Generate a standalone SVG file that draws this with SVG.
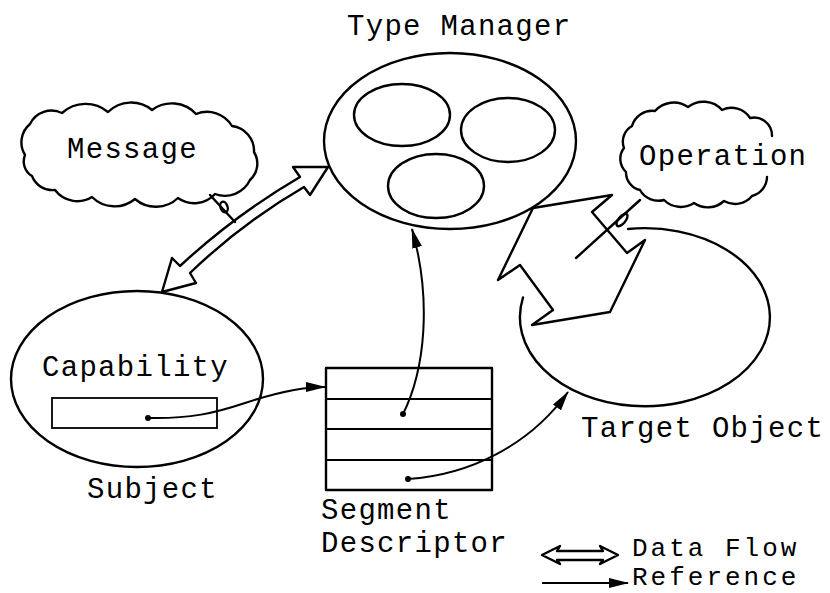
<svg xmlns="http://www.w3.org/2000/svg" width="830" height="593" viewBox="0 0 830 593">
  <style>
    .ln { fill: none; stroke: #000; stroke-width: 2.4; stroke-linejoin: round; stroke-linecap: round; }
    .thin { fill: none; stroke: #000; stroke-width: 1.8; }
    .ref { fill: none; stroke: #000; stroke-width: 2; }
    .dot { fill: #000; }
    .t { font-family: "Liberation Mono", "DejaVu Sans Mono", monospace; font-size: 29px; letter-spacing: 1.3px; fill: #000; }
    .lg { font-family: "Liberation Mono", "DejaVu Sans Mono", monospace; font-size: 26px; letter-spacing: 3px; fill: #000; }
  </style>
  <defs>
    <marker id="head" viewBox="0 0 20 10" refX="19" refY="5" markerWidth="20" markerHeight="10" markerUnits="userSpaceOnUse" orient="auto">
      <path d="M0,0 L20,5 L0,10 z" fill="#000"/>
    </marker>
  </defs>
  <rect width="830" height="593" fill="#fff"/>

  <!-- Type Manager -->
  <g id="type-manager">
    <ellipse class="ln" cx="450" cy="141" rx="126" ry="88"/>
    <ellipse class="ln" cx="402" cy="115" rx="48" ry="31"/>
    <ellipse class="ln" cx="508" cy="130" rx="47" ry="32"/>
    <ellipse class="ln" cx="436" cy="186" rx="48" ry="32"/>
    <text class="t" x="347" y="35">Type Manager</text>
  </g>

  <!-- Message cloud -->
  <g id="message">
    <path class="ln" d="M25,155 A24,24 0 0 1 30,124 A24,24 0 0 1 62,113 A35,35 0 0 1 108,112 A33,33 0 0 1 152,110 A33,33 0 0 1 196,114 A29,29 0 0 1 232,126 A25,25 0 0 1 254,152 A22,22 0 0 1 250,180 A28,28 0 0 1 215,194 A28,28 0 0 1 178,198 A32,32 0 0 1 135,199 A32,32 0 0 1 92,197 A28,28 0 0 1 55,190 A22,22 0 0 1 32,176 A17,17 0 0 1 25,155 Z"/>
    <text class="t" x="67" y="158">Message</text>
  </g>

  <!-- Operation cloud (outline broken by its label on the right) -->
  <g id="operation">
    <path class="ln" d="M767,177 A20,20 0 0 1 752,196 A22,22 0 0 1 724,201 A24,24 0 0 1 694,203 A24,24 0 0 1 664,200 A21,21 0 0 1 640,190 A18,18 0 0 1 626,172 A18,18 0 0 1 624,148 A18,18 0 0 1 632,126 A21,21 0 0 1 655,111 A25,25 0 0 1 688,107 A25,25 0 0 1 722,110 A22,22 0 0 1 750,118 A18,18 0 0 1 772,136"/>
    <text class="t" x="639" y="165">Operation</text>
  </g>

  <!-- Subject -->
  <g id="subject">
    <ellipse class="ln" cx="137" cy="379" rx="126" ry="88"/>
    <text class="t" x="42" y="376">Capability</text>
    <rect class="thin" x="52" y="398" width="165" height="30"/>
    <text class="t" x="87" y="498">Subject</text>
  </g>

  <!-- Segment Descriptor -->
  <g id="segment-descriptor">
    <rect class="ln" x="326" y="368" width="166" height="122" stroke-width="2"/>
    <path class="thin" d="M326,399 H492 M326,429 H492 M326,460 H492"/>
    <text class="t" x="321" y="519">Segment</text>
    <text class="t" x="321" y="552">Descriptor</text>
  </g>

  <!-- Target Object (open where the data flow enters) -->
  <g id="target-object">
    <path class="ln" d="M628,229 A125,89 0 1 1 523,297.5"/>
    <text class="t" x="581" y="437">Target Object</text>
  </g>

  <!-- Connectors -->
  <g id="connectors">
    <!-- data flow: Message / Subject <-> Type Manager -->
    <path class="ln" d="M328,167 L310,195 L304,187 Q242,223 190,273 L196,283 L162,292 L172,258 L180,266 Q235,215 300,177 L293,167 Z"/>
    <!-- message tail -->
    <path class="ln" stroke-width="1.8" d="M210,195 L235,222"/>
    <ellipse class="ln" stroke-width="1.8" cx="224" cy="207" rx="3.5" ry="5.5" transform="rotate(-20 224 207)"/>

    <!-- data flow: Type Manager <-> Target Object (zigzag) -->
    <path class="ln" d="M533,208 L612,195 L592,212 L627,253 L645,240 L610,312 L532,325 L553,310 L520,265 L498,280 Z"/>
    <!-- operation tail -->
    <path class="ln" stroke-width="1.8" d="M640,200 L576,258"/>
    <ellipse class="ln" stroke-width="1.8" cx="622" cy="220" rx="7.5" ry="3.5" transform="rotate(-50 622 220)"/>

    <!-- references -->
    <circle class="dot" cx="148" cy="418" r="3"/>
    <path class="ref" marker-end="url(#head)" d="M148,418 C190,419 215,413 245,403 S300,387 325,387"/>
    <circle class="dot" cx="403" cy="414" r="3"/>
    <path class="ref" marker-end="url(#head)" d="M403,414 C425,370 432,300 412,229"/>
    <circle class="dot" cx="408" cy="479" r="3"/>
    <path class="ref" marker-end="url(#head)" d="M408,479 C470,475 530,445 568,392"/>
  </g>

  <!-- Legend -->
  <g id="legend">
    <path class="ln" stroke-width="2" d="M542,555 L560,546 L557,551 L603,551 L600,546 L618,555 L600,564 L603,560 L557,560 L560,564 Z"/>
    <text class="lg" x="632" y="556">Data Flow</text>
    <path class="ref" marker-end="url(#head)" d="M542,583 L628,583"/>
    <text class="lg" x="632" y="585">Reference</text>
  </g>
</svg>
